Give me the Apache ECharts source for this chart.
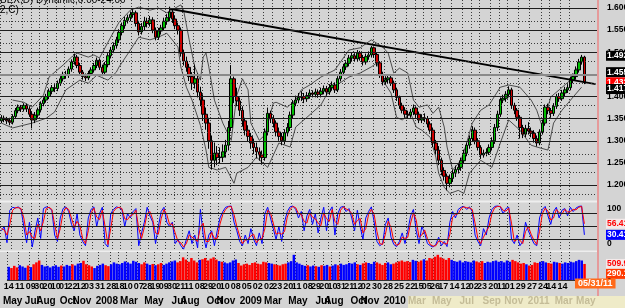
<!DOCTYPE html>
<html><head><meta charset="utf-8">
<script src="https://cdn.jsdelivr.net/npm/echarts@6/dist/echarts.min.js"></script>
<style>html,body{margin:0;padding:0;background:#d4d4d4;overflow:hidden}#c{width:625px;height:308px}</style>
</head><body><div id="c"></div><script>
// ---------- DATA ----------
const opens = [1.345,1.351,1.348,1.345,1.342,1.355,1.368,1.376,1.372,1.380,
1.372,1.360,1.347,1.358,1.370,1.384,1.392,1.400,1.412,1.420,
1.418,1.430,1.440,1.450,1.448,1.462,1.478,1.489,1.470,1.455,
1.445,1.442,1.452,1.460,1.470,1.482,1.466,1.455,1.472,1.492,
1.505,1.515,1.528,1.545,1.560,1.572,1.578,1.585,1.589,1.565,
1.546,1.558,1.570,1.565,1.573,1.550,1.534,1.548,1.555,1.570,
1.578,1.591,1.575,1.560,1.550,1.498,1.480,1.466,1.445,1.430,
1.440,1.410,1.392,1.360,1.340,1.300,1.256,1.272,1.262,1.263,
1.275,1.290,1.330,1.440,1.400,1.390,1.369,1.345,1.324,1.310,
1.295,1.285,1.275,1.268,1.262,1.320,1.362,1.350,1.340,1.320,
1.310,1.300,1.318,1.330,1.358,1.385,1.392,1.398,1.400,1.395,
1.402,1.408,1.405,1.410,1.405,1.412,1.418,1.410,1.420,1.426,
1.415,1.440,1.455,1.467,1.475,1.487,1.492,1.485,1.498,1.488,
1.478,1.490,1.494,1.510,1.495,1.476,1.450,1.433,1.438,1.442,
1.430,1.415,1.398,1.380,1.369,1.360,1.358,1.365,1.374,1.360,
1.347,1.352,1.350,1.338,1.324,1.295,1.279,1.256,1.233,1.220,
1.204,1.215,1.227,1.235,1.240,1.255,1.272,1.290,1.305,1.324,
1.300,1.285,1.268,1.272,1.274,1.285,1.300,1.330,1.360,1.392,
1.396,1.405,1.415,1.380,1.369,1.353,1.330,1.315,1.328,1.322,
1.317,1.305,1.295,1.320,1.340,1.376,1.368,1.362,1.378,1.400,
1.395,1.408,1.415,1.420,1.437,1.445,1.460,1.478,1.489];
const closes = [1.351,1.348,1.345,1.342,1.355,1.368,1.376,1.372,1.380,1.372,
1.360,1.347,1.358,1.370,1.384,1.392,1.400,1.412,1.420,1.418,
1.430,1.440,1.450,1.448,1.462,1.478,1.489,1.470,1.455,1.445,
1.442,1.452,1.460,1.470,1.482,1.466,1.455,1.472,1.492,1.505,
1.515,1.528,1.545,1.560,1.572,1.578,1.585,1.589,1.565,1.546,
1.558,1.570,1.565,1.573,1.550,1.534,1.548,1.555,1.570,1.578,
1.591,1.575,1.560,1.550,1.498,1.480,1.466,1.445,1.430,1.440,
1.410,1.392,1.360,1.340,1.300,1.256,1.272,1.262,1.263,1.275,
1.290,1.330,1.440,1.400,1.390,1.369,1.345,1.324,1.310,1.295,
1.285,1.275,1.268,1.262,1.320,1.362,1.350,1.340,1.320,1.310,
1.300,1.318,1.330,1.358,1.385,1.392,1.398,1.400,1.395,1.402,
1.408,1.405,1.410,1.405,1.412,1.418,1.410,1.420,1.426,1.415,
1.440,1.455,1.467,1.475,1.487,1.492,1.485,1.498,1.488,1.478,
1.490,1.494,1.510,1.495,1.476,1.450,1.433,1.438,1.442,1.430,
1.415,1.398,1.380,1.369,1.360,1.358,1.365,1.374,1.360,1.347,
1.352,1.350,1.338,1.324,1.295,1.279,1.256,1.233,1.220,1.204,
1.215,1.227,1.235,1.240,1.255,1.272,1.290,1.305,1.324,1.300,
1.285,1.268,1.272,1.274,1.285,1.300,1.330,1.360,1.392,1.396,
1.405,1.415,1.380,1.369,1.353,1.330,1.315,1.328,1.322,1.317,
1.305,1.295,1.320,1.340,1.376,1.368,1.362,1.378,1.400,1.395,
1.408,1.415,1.420,1.437,1.445,1.460,1.478,1.489,1.432];
const highs = [1.358,1.357,1.354,1.352,1.360,1.374,1.382,1.381,1.385,1.384,
1.378,1.366,1.365,1.375,1.389,1.398,1.406,1.418,1.426,1.428,
1.436,1.446,1.456,1.458,1.468,1.484,1.497,1.494,1.476,1.460,
1.452,1.458,1.466,1.476,1.488,1.486,1.472,1.478,1.498,1.512,
1.522,1.535,1.552,1.567,1.580,1.585,1.592,1.597,1.594,1.571,
1.566,1.580,1.578,1.582,1.579,1.556,1.555,1.562,1.578,1.586,
1.603,1.598,1.582,1.567,1.556,1.506,1.490,1.474,1.455,1.472,
1.452,1.422,1.405,1.375,1.352,1.312,1.296,1.288,1.285,1.292,
1.302,1.345,1.471,1.445,1.420,1.398,1.378,1.352,1.335,1.318,
1.305,1.296,1.285,1.278,1.328,1.375,1.368,1.358,1.346,1.330,
1.318,1.326,1.340,1.366,1.392,1.402,1.408,1.412,1.408,1.410,
1.416,1.414,1.418,1.416,1.420,1.425,1.424,1.428,1.434,1.432,
1.446,1.462,1.474,1.482,1.494,1.500,1.498,1.505,1.503,1.494,
1.497,1.502,1.514,1.513,1.500,1.480,1.456,1.446,1.450,1.447,
1.436,1.420,1.402,1.386,1.376,1.368,1.372,1.382,1.378,1.366,
1.360,1.362,1.356,1.344,1.330,1.302,1.288,1.262,1.240,1.226,
1.224,1.234,1.244,1.250,1.262,1.280,1.296,1.312,1.333,1.330,
1.306,1.290,1.280,1.283,1.292,1.308,1.338,1.368,1.398,1.404,
1.412,1.423,1.420,1.386,1.374,1.358,1.336,1.336,1.342,1.330,
1.324,1.312,1.326,1.348,1.382,1.384,1.374,1.385,1.406,1.408,
1.415,1.422,1.428,1.445,1.452,1.468,1.485,1.494,1.492];
const lows = [1.340,1.342,1.338,1.335,1.337,1.350,1.362,1.365,1.366,1.365,
1.354,1.328,1.340,1.352,1.364,1.378,1.386,1.394,1.405,1.410,
1.412,1.424,1.434,1.440,1.442,1.456,1.472,1.464,1.448,1.438,
1.435,1.437,1.446,1.454,1.464,1.460,1.446,1.449,1.466,1.486,
1.498,1.508,1.521,1.538,1.553,1.565,1.570,1.578,1.558,1.538,
1.540,1.550,1.556,1.558,1.543,1.527,1.528,1.540,1.548,1.562,
1.570,1.566,1.552,1.540,1.490,1.470,1.456,1.435,1.415,1.418,
1.398,1.378,1.345,1.325,1.282,1.235,1.240,1.245,1.248,1.252,
1.262,1.278,1.322,1.385,1.378,1.356,1.332,1.312,1.298,1.282,
1.270,1.260,1.255,1.246,1.255,1.312,1.340,1.330,1.310,1.300,
1.290,1.292,1.310,1.322,1.350,1.378,1.385,1.390,1.385,1.388,
1.395,1.398,1.398,1.397,1.398,1.405,1.402,1.404,1.413,1.408,
1.410,1.434,1.448,1.460,1.468,1.480,1.478,1.479,1.481,1.470,
1.472,1.483,1.488,1.488,1.468,1.442,1.425,1.427,1.430,1.424,
1.408,1.390,1.372,1.362,1.352,1.350,1.352,1.358,1.352,1.340,
1.340,1.342,1.330,1.316,1.286,1.268,1.245,1.222,1.210,1.188,
1.195,1.207,1.218,1.226,1.232,1.248,1.265,1.282,1.298,1.292,
1.278,1.259,1.262,1.265,1.268,1.278,1.293,1.322,1.354,1.385,
1.388,1.398,1.372,1.360,1.345,1.305,1.306,1.308,1.314,1.308,
1.296,1.287,1.290,1.314,1.334,1.360,1.352,1.356,1.372,1.388,
1.390,1.401,1.408,1.414,1.430,1.438,1.454,1.472,1.428];
// displaced envelope lines: [week index, price]
const upperBand = [[4,1.392],[8,1.387],[11,1.376],[15,1.403],[17,1.444],[22,1.471],[25,1.489],[27,1.498],[31,1.489],[33,1.494],[35,1.487],[39,1.534],[42,1.568],[46,1.595],[49,1.602],[53,1.595],[56,1.600],[59,1.589],[64,1.607],[65,1.595],[67,1.528],[69,1.467],[71,1.437],[72,1.489],[73,1.498],[74,1.467],[76,1.392],[79,1.340],[82,1.301],[84,1.403],[86,1.440],[88,1.415],[89,1.340],[92,1.301],[94,1.313],[97,1.385],[98,1.387],[102,1.376],[105,1.392],[107,1.415],[110,1.426],[114,1.444],[119,1.460],[124,1.505],[128,1.510],[132,1.528],[136,1.512],[138,1.498],[140,1.453],[142,1.464],[145,1.453],[147,1.392],[149,1.376],[152,1.381],[154,1.362],[156,1.376],[158,1.331],[159,1.286],[161,1.234],[164,1.256],[166,1.295],[168,1.340],[171,1.369],[174,1.381],[178,1.421],[181,1.426],[185,1.421],[189,1.392],[191,1.369],[193,1.331],[196,1.399],[199,1.415],[203,1.437],[206,1.471],[208,1.487]];
const lowerBand = [[0,1.340],[4,1.329],[11,1.340],[16,1.351],[19,1.365],[23,1.415],[28,1.437],[31,1.430],[34,1.448],[38,1.437],[41,1.455],[42,1.467],[46,1.505],[49,1.534],[53,1.528],[56,1.534],[59,1.543],[63,1.512],[64,1.467],[66,1.421],[68,1.392],[71,1.335],[73,1.279],[74,1.240],[77,1.234],[80,1.240],[83,1.204],[84,1.227],[88,1.240],[91,1.263],[95,1.240],[99,1.295],[103,1.286],[105,1.331],[109,1.353],[114,1.381],[117,1.415],[124,1.444],[128,1.453],[132,1.467],[134,1.476],[136,1.437],[139,1.408],[141,1.353],[143,1.347],[146,1.362],[148,1.331],[150,1.324],[153,1.308],[155,1.263],[156,1.227],[158,1.195],[160,1.181],[163,1.188],[165,1.181],[167,1.227],[171,1.256],[175,1.240],[178,1.295],[181,1.347],[185,1.324],[189,1.290],[191,1.286],[195,1.279],[197,1.340],[200,1.369],[204,1.399],[207,1.421]];
const trendLine = [[60,1.598],[212,1.428]];
const oscBlue = [40,50,12,88,95,93,96,90,50,12,60,2,40,70,22,92,96,94,88,30,
15,70,92,96,85,55,40,80,30,15,5,70,90,96,50,80,95,10,2,80,
90,96,94,90,50,80,70,85,92,5,35,60,95,75,60,10,50,85,95,60,
50,60,10,20,5,-3,20,40,10,30,0,90,30,0,30,40,5,40,70,85,
95,97,98,60,40,15,5,30,10,45,20,5,35,10,80,95,70,45,20,50,
15,60,85,96,98,90,70,85,40,75,90,55,80,35,70,95,40,85,96,30,
80,95,97,85,92,70,40,88,50,20,70,85,96,60,15,5,10,55,70,25,
8,3,15,35,10,40,75,90,40,10,50,35,10,5,2,8,25,5,15,3,
60,85,70,90,95,97,90,96,85,30,15,5,45,30,70,90,97,98,96,80,
92,95,20,10,30,5,15,60,40,25,10,5,70,90,97,75,55,85,95,70,
88,92,75,95,85,93,97,98,30.41];
const oscRed = [45,42,30,55,88,94,94,92,70,30,38,25,22,55,40,62,92,95,90,55,
22,45,82,94,90,70,48,62,52,22,10,40,82,93,72,66,88,50,8,45,
85,93,95,92,68,66,75,78,88,45,22,48,80,85,66,35,32,68,90,78,
55,56,35,15,12,2,10,30,25,20,15,48,58,15,15,36,22,22,56,78,
90,96,97,78,50,28,10,18,20,28,32,12,20,22,45,88,82,58,32,35,
32,38,72,90,97,94,80,78,62,58,82,72,68,58,52,82,68,62,90,62,
55,88,96,91,88,81,55,64,69,35,45,78,90,78,38,10,8,32,62,48,
16,6,9,25,22,25,58,82,65,25,30,42,22,8,4,5,16,15,10,9,
32,72,78,80,92,96,94,93,90,58,22,10,25,38,50,80,94,97,97,88,
86,93,58,15,20,18,10,38,50,32,18,8,38,80,93,86,65,70,90,82,
79,90,84,85,90,89,95,97,56.41];
const volumes = [420,380,450,400,470,430,390,460,410,500,
560,620,480,430,450,400,440,470,420,460,
430,480,450,500,460,520,540,610,500,470,
430,380,450,480,520,470,440,500,560,520,
500,540,590,560,520,610,580,540,500,560,
520,480,510,470,500,540,480,520,560,590,
620,560,600,720,650,580,700,620,560,640,
660,700,620,680,720,650,600,580,560,530,
560,620,650,540,460,500,520,480,540,560,
520,500,580,560,540,520,500,480,460,500,
520,560,600,800,560,520,480,450,470,430,
460,440,420,470,450,480,430,460,500,470,
520,480,500,540,520,560,500,480,530,560,
540,510,580,560,520,480,540,560,500,520,
560,590,620,580,600,570,640,610,580,620,
660,620,700,680,740,800,720,680,640,700,
640,600,580,620,560,600,580,560,620,590,
560,600,540,580,560,600,620,580,600,560,
620,580,640,600,560,520,540,500,460,480,
560,540,580,600,560,540,520,580,560,540,
520,560,540,580,560,600,640,620,509.9];
const priceTicks = [1.2,1.25,1.3,1.35,1.4,1.45,1.5,1.55,1.6];
const priceMinor = [1.175,1.225,1.275,1.325,1.375,1.425,1.475,1.525,1.575];
const oscLevels = [20,50,80];
const oscAxisLabels = [100,0];
const volAxisLabels = [0];
const priceMarkers = [1.492,1.455,1.432,1.417];
const oscMarkers = [56.41,30.41];
const volMarkers = [509.9,290.1];
const lastDateLabel = '05/31/11';
const titleLines = ['BEX,D) Dynamic,0:00-24:00','2,C)'];
const dayTicks = ['2007-05-14','2007-06-11','2007-07-09','2007-07-30','2007-08-20','2007-09-10','2007-10-01','2007-10-22','2007-11-12','2007-12-03','2007-12-31',
'2008-01-28','2008-02-18','2008-03-10','2008-04-07','2008-04-28','2008-05-19','2008-06-09','2008-06-30','2008-07-21','2008-08-11','2008-09-08','2008-09-29','2008-10-20','2008-11-10','2008-12-08',
'2009-01-05','2009-02-02','2009-03-02','2009-03-23','2009-04-20','2009-05-11','2009-06-08','2009-06-29','2009-07-20','2009-08-10','2009-08-31','2009-09-21','2009-10-12','2009-11-02','2009-11-30','2009-12-28',
'2010-01-25','2010-02-22','2010-03-15','2010-04-05','2010-04-26','2010-05-17','2010-06-14','2010-07-12','2010-08-02','2010-08-23','2010-09-20','2010-10-11','2010-11-01','2010-11-29','2010-12-27',
'2011-01-24','2011-02-14','2011-03-14','2011-04-04'];
const monthTicks = [['2007-05','May'],['2007-07','Jul'],['2007-08','Aug'],['2007-10','Oct'],['2007-11','Nov'],['2008-01','2008'],['2008-03','Mar'],['2008-05','May'],['2008-07','Jul'],['2008-08','Aug'],['2008-10','Oct'],['2008-11','Nov'],['2009-01','2009'],['2009-03','Mar'],['2009-05','May'],['2009-07','Jul'],['2009-08','Aug'],['2009-10','Oct'],['2009-11','Nov'],['2010-01','2010'],['2010-03','Mar'],['2010-05','May'],['2010-07','Jul'],['2010-09','Sep'],['2010-11','Nov'],['2011-01','2011'],['2011-03','Mar'],['2011-05','May']];
const fadedFrom = '2010-03';

// ---------- BUILD ----------
const categories = [];
(function(){ const t0 = Date.UTC(2007,4,14); for (let k=0;k<213;k++){ categories.push(new Date(t0 + k*7*86400000).toISOString().slice(0,10)); } })();
const daySet = new Set(dayTicks.map(d => categories.indexOf(d)));
const monthMap = {};
monthTicks.forEach(([m,lab]) => { const idx = categories.findIndex(c => c >= m + '-01'); if (idx >= 0) monthMap[idx] = [m,lab]; });

const candleData = opens.map((o,i) => [o, closes[i], lows[i], highs[i]]);
const volData = volumes.map((v,i) => ({ value: v, itemStyle: { color: closes[i] >= opens[i] ? '#0000ff' : '#ff0000' } }));
const emptyData = categories.map(() => null);

const FONT = 'Liberation Sans';
const grids = [
  { left: 0, right: 28, top: 0, height: 201 },
  { left: 0, right: 28, top: 203, height: 47 },
  { left: 0, right: 28, top: 252, height: 28 }
];
const vSplit = { show: true, interval: (i) => daySet.has(i), lineStyle: { color: '#3a3a3a', type: [1,2], width: 1 } };
function baseX(g){ return { type:'category', gridIndex:g, data:categories, boundaryGap:true, axisLine:{show:false}, axisTick:{show:false}, axisLabel:{show:false}, splitLine:vSplit }; }
function hiddenY(g, mn, mx){ return { type:'value', gridIndex:g, min:mn, max:mx, position:'right', axisLine:{show:false}, axisTick:{show:false}, splitLine:{show:false}, axisLabel:{show:false} }; }

const chart = echarts.init(document.getElementById('c'), null, { renderer: 'canvas' });
chart.setOption({
  animation: false,
  backgroundColor: '#d4d4d4',
  grid: grids,
  xAxis: [
    baseX(0), baseX(1),
    Object.assign(baseX(2), { axisLine:{show:true, lineStyle:{color:'#333'}}, axisLabel:{ show:true, interval:(i)=>daySet.has(i), formatter:(v)=>v.slice(8,10), color:'#000', fontSize:9, fontWeight:'bold', fontFamily:FONT, margin:2 } }),
    { type:'category', gridIndex:2, data:categories, position:'bottom', offset:15, axisLine:{show:false}, axisTick:{show:false}, splitLine:{show:false},
      axisLabel:{ show:true, interval:(i)=>monthMap[i]!==undefined, formatter:(v,i)=>{ const e = monthMap[i]; if(!e) return ''; return (e[0] >= fadedFrom ? '{f|' : '{d|') + e[1] + '}'; },
        margin:1, rich:{ d:{ color:'#000', fontSize:10, fontWeight:'bold', fontFamily:FONT, padding:[0,0,0,8] }, f:{ color:'#c4bc98', fontSize:10, fontWeight:'bold', fontFamily:FONT, padding:[0,0,0,8] } } } }
  ],
  yAxis: [ hiddenY(0, 1.164, 1.618), hiddenY(1, -5, 105), hiddenY(2, 0, 890) ],
  series: [
    { type:'line', xAxisIndex:0, yAxisIndex:0, data:emptyData, silent:true, z:1, symbol:'none',
      markLine:{ silent:true, symbol:'none', label:{show:false}, animation:false,
        data: priceTicks.map(v => ({ yAxis:v, lineStyle:{ color: v === 1.45 ? '#8a8a8a' : '#1e1e1e', width: v === 1.45 ? 2 : 1, type:'solid' } }))
          .concat(priceMinor.map(v => ({ yAxis:v, lineStyle:{ color:'#3a3a3a', width:1, type:[1,2] } }))) } },
    { type:'line', xAxisIndex:0, yAxisIndex:0, data:upperBand, symbol:'none', z:2, lineStyle:{ color:'#2a2a2a', width:0.8 } },
    { type:'line', xAxisIndex:0, yAxisIndex:0, data:lowerBand, symbol:'none', z:2, lineStyle:{ color:'#2a2a2a', width:0.8 } },
    { type:'candlestick', xAxisIndex:0, yAxisIndex:0, data:candleData, barWidth:3, z:3,
      itemStyle:{ color:'#00c000', color0:'#d00000', borderColor:'#000', borderColor0:'#000', borderWidth:1 } },
    { type:'line', xAxisIndex:0, yAxisIndex:0, data:trendLine, symbol:'none', z:4, lineStyle:{ color:'#000', width:2 } },
    { type:'line', xAxisIndex:1, yAxisIndex:1, data:emptyData, silent:true, z:1, symbol:'none',
      markLine:{ silent:true, symbol:'none', label:{show:false}, animation:false,
        data: oscLevels.map(v => ({ yAxis:v, lineStyle:{ color:'#1e1e1e', width:1, type:'solid' } })) } },
    { type:'line', xAxisIndex:1, yAxisIndex:1, data:oscBlue, symbol:'none', z:3, lineStyle:{ color:'#0000ff', width:1 } },
    { type:'line', xAxisIndex:1, yAxisIndex:1, data:oscRed, symbol:'none', z:3, lineStyle:{ color:'#ff0000', width:1 } },
    { type:'bar', xAxisIndex:2, yAxisIndex:2, data:volData, barCategoryGap:'10%', z:3 }
  ]
});

// ---------- value labels on the right scale (positions from the axes) ----------
const g = [];
function yOf(axisIdx, v){ return chart.convertToPixel({ yAxisIndex: axisIdx }, v); }
const LX = 607;
function box(text, y, bg, fg){
  g.push({ type:'text', z:100, x:bg ? LX - 1 : LX, y:y, style:{ text:text, fill:fg, backgroundColor:bg, padding: bg ? [1,3,0,1] : 0, font:'bold 8.5px ' + FONT, verticalAlign:'middle', align:'left' } });
}
priceTicks.forEach(v => box(v.toFixed(3), yOf(0,v), null, '#000'));
const priceStyles = [['#000','#fff'],['#000','#fff'],['#ff0000','#fff'],['#000','#fff']];
priceMarkers.forEach((v,i) => box(v.toFixed(3), yOf(0,v), priceStyles[i][0], priceStyles[i][1]));
box(String(oscAxisLabels[0]), yOf(1,oscAxisLabels[0]) + 4, null, '#000');
box(String(oscAxisLabels[1]), yOf(1,oscAxisLabels[1]) - 4, null, '#000');
const oscStyles = [['#f4eaea','#ff0000'],['#0000ff','#fff']];
oscMarkers.forEach((v,i) => box(v.toFixed(2), yOf(1,v), oscStyles[i][0], oscStyles[i][1]));
const volStyles = [['#f4eaea','#ff0000'],['#ff3a00','#fff']];
volMarkers.forEach((v,i) => box(v.toFixed(1), yOf(2,v) + (i === 1 ? 3 : 0), volStyles[i][0], volStyles[i][1]));
box(String(volAxisLabels[0]), yOf(2,volAxisLabels[0]) + 2, null, '#000');

const W = 625, gridRight = W - 28;
g.push({ type:'rect', z:-1, shape:{ x:408, y:296, width:W-408, height:12 }, style:{ fill:'#efebc8' } });
g.push({ type:'rect', z:50, shape:{ x:0, y:200.5, width:gridRight, height:2 }, style:{ fill:'#eeeeee' } });
g.push({ type:'rect', z:50, shape:{ x:0, y:250.5, width:gridRight, height:1.5 }, style:{ fill:'#eeeeee' } });
g.push({ type:'rect', z:60, shape:{ x:gridRight, y:0, width:2, height:296 }, style:{ fill:'#e59a9a' } });
g.push({ type:'text', z:100, x:gridRight - 22, y:283.5, style:{ text:lastDateLabel, fill:'#fff', backgroundColor:'#ff6a1a', padding:[1,3,0,3], font:'bold 9px ' + FONT, verticalAlign:'middle', align:'left' } });
g.push({ type:'text', z:100, x:0, y:-5, style:{ text:titleLines[0], fill:'#000', font:'10px ' + FONT, verticalAlign:'top' } });
g.push({ type:'text', z:100, x:0, y:5, style:{ text:titleLines[1], fill:'#000', font:'10px ' + FONT, verticalAlign:'top' } });
chart.setOption({ graphic: g });
</script></body></html>
